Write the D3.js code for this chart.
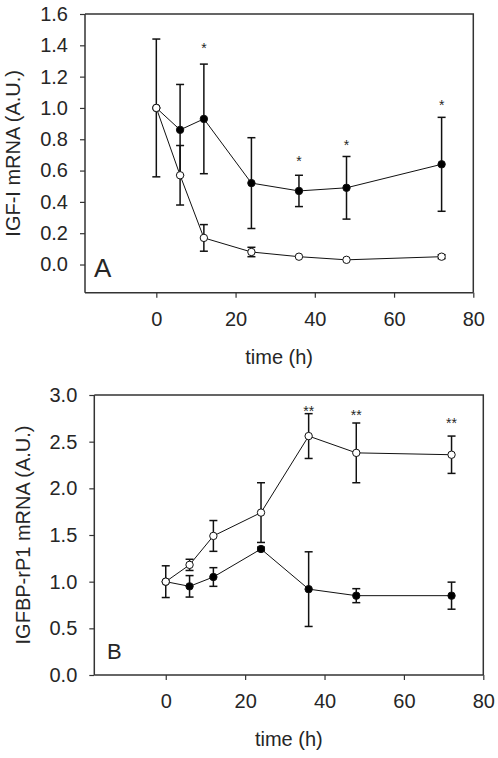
<!DOCTYPE html>
<html>
<head>
<meta charset="utf-8">
<script src="https://cdn.jsdelivr.net/npm/d3@7"></script>
<style>
  html, body { margin: 0; padding: 0; background: #fff; }
  svg { display: block; }
  text { font-family: "Liberation Sans", Arial, sans-serif; fill: #262626; }
</style>
</head>
<body>
<svg id="chart" width="498" height="758"></svg>
<script>
// ---------- data ----------
const timeH = [0, 6, 12, 24, 36, 48, 72];
const xTicks = [0, 20, 40, 60, 80];

// Panel A: IGF-I mRNA
const igfFilled    = [1.00, 0.86, 0.93, 0.52, 0.47, 0.49, 0.64];
const igfFilledErr = [0.44, 0.29, 0.35, 0.29, 0.10, 0.20, 0.30];
const igfOpen      = [1.00, 0.57, 0.17, 0.08, 0.05, 0.03, 0.05];
const igfOpenErr   = [0.00, 0.19, 0.085, 0.03, 0.00, 0.00, 0.012];
const igfTicks     = [0.0, 0.2, 0.4, 0.6, 0.8, 1.0, 1.2, 1.4, 1.6];
const igfStarTimes = [12, 36, 48, 72];
const igfStarPos   = [1.40, 0.68, 0.78, 1.04];
const igfStarText  = ["*", "*", "*", "*"];

// Panel B: IGFBP-rP1 mRNA
const rp1Open      = [1.00, 1.18, 1.49, 1.74, 2.56, 2.38, 2.36];
const rp1OpenErr   = [0.17, 0.06, 0.165, 0.32, 0.24, 0.32, 0.20];
const rp1Filled    = [1.00, 0.95, 1.05, 1.35, 0.92, 0.85, 0.85];
const rp1FilledErr = [0.00, 0.115, 0.10, 0.02, 0.40, 0.075, 0.145];
const rp1Ticks     = [0.0, 0.5, 1.0, 1.5, 2.0, 2.5, 3.0];
const rp1StarTimes = [36, 48, 72];
const rp1StarPos   = [2.86, 2.82, 2.73];
const rp1StarText  = ["**", "**", "**"];

// ---------- drawing ----------
const svg = d3.select("#chart");

function panel(cfg) {
  const g = svg.append("g");
  const x = d3.scaleLinear().domain([-18, 80]).range([cfg.left, cfg.right]);
  const y = d3.scaleLinear().domain(cfg.yDomain).range([cfg.bottom, cfg.top]);
  const axisColor = "#333";

  // frame (top and right)
  g.append("path")
    .attr("d", `M${cfg.left},${cfg.top}H${cfg.right}V${cfg.bottom}`)
    .attr("fill", "none").attr("stroke", axisColor).attr("stroke-width", 1.5);

  const xAxis = g.append("g").attr("transform", `translate(0,${cfg.bottom})`)
    .call(d3.axisBottom(x).tickValues(xTicks).tickSizeInner(5).tickSizeOuter(0).tickPadding(14)
      .tickFormat(d3.format("d")));
  const yAxis = g.append("g").attr("transform", `translate(${cfg.left},0)`)
    .call(d3.axisLeft(y).tickValues(cfg.yTicks).tickSizeInner(5).tickSizeOuter(0).tickPadding(12)
      .tickFormat(d3.format(".1f")));
  [xAxis, yAxis].forEach(a => {
    a.select(".domain").attr("stroke", axisColor).attr("stroke-width", 1.5);
    a.selectAll(".tick line").attr("stroke", axisColor).attr("stroke-width", 1.2);
    a.selectAll(".tick text").attr("font-size", 20).attr("font-family", "Liberation Sans, Arial, sans-serif").attr("fill", "#262626");
  });
  xAxis.select(".domain").attr("d", `M${cfg.left},0H${cfg.right}`);
  yAxis.select(".domain").attr("d", `M0,${cfg.top}V${cfg.bottom}`);

  // axis labels
  g.append("text")
    .attr("x", (cfg.left + cfg.right) / 2).attr("y", cfg.bottom + 71)
    .attr("text-anchor", "middle").attr("font-size", 20).text("time (h)");
  g.append("text")
    .attr("transform", `translate(${cfg.yLabelX},${(cfg.top + cfg.bottom) / 2}) rotate(-90)`)
    .attr("text-anchor", "middle").attr("dominant-baseline", "central")
    .attr("font-size", 20).text(cfg.yLabel);

  // panel letter
  g.append("text").attr("x", cfg.letterX).attr("y", cfg.letterY)
    .attr("font-size", cfg.letterSize).text(cfg.letter);

  const line = d3.line().x((d, i) => x(timeH[i])).y(d => y(d));

  cfg.series.forEach(s => {
    g.append("path").datum(s.values).attr("d", line)
      .attr("fill", "none").attr("stroke", "#111").attr("stroke-width", 1);
  });
  cfg.series.forEach(s => {
    const eb = g.append("g");
    s.values.forEach((v, i) => {
      const e = s.err[i];
      if (!e) return;
      const cx = x(timeH[i]);
      eb.append("line").attr("x1", cx).attr("x2", cx).attr("y1", y(v + e)).attr("y2", y(v - e))
        .attr("stroke", "#111").attr("stroke-width", 1.5);
      [v + e, v - e].forEach(c => {
        eb.append("line").attr("x1", cx - 4).attr("x2", cx + 4).attr("y1", y(c)).attr("y2", y(c))
          .attr("stroke", "#111").attr("stroke-width", 1.5);
      });
    });
  });
  cfg.series.forEach(s => {
    g.append("g").selectAll("circle").data(s.values).join("circle")
      .attr("cx", (d, i) => x(timeH[i])).attr("cy", d => y(d)).attr("r", 3.7)
      .attr("fill", s.filled ? "#000" : "#fff").attr("stroke", "#111").attr("stroke-width", 1);
  });

  cfg.starTimes.forEach((t, i) => {
    g.append("text").attr("x", x(t)).attr("y", y(cfg.starPos[i]) + 8)
      .attr("text-anchor", "middle").attr("font-size", 14).text(cfg.starText[i]);
  });
}

panel({
  left: 85, right: 473.3, top: 14, bottom: 292.7,
  yDomain: [-0.18, 1.6], yTicks: igfTicks,
  yLabel: "IGF-I mRNA (A.U.)", yLabelX: 13,
  letter: "A", letterX: 94, letterY: 277, letterSize: 26,
  series: [
    { values: igfFilled, err: igfFilledErr, filled: true },
    { values: igfOpen, err: igfOpenErr, filled: false }
  ],
  starTimes: igfStarTimes, starPos: igfStarPos, starText: igfStarText
});

panel({
  left: 94.3, right: 483.3, top: 395, bottom: 675,
  yDomain: [0, 3], yTicks: rp1Ticks,
  yLabel: "IGFBP-rP1 mRNA (A.U.)", yLabelX: 23,
  letter: "B", letterX: 107, letterY: 659, letterSize: 22,
  series: [
    { values: rp1Filled, err: rp1FilledErr, filled: true },
    { values: rp1Open, err: rp1OpenErr, filled: false }
  ],
  starTimes: rp1StarTimes, starPos: rp1StarPos, starText: rp1StarText
});
</script>
</body>
</html>
